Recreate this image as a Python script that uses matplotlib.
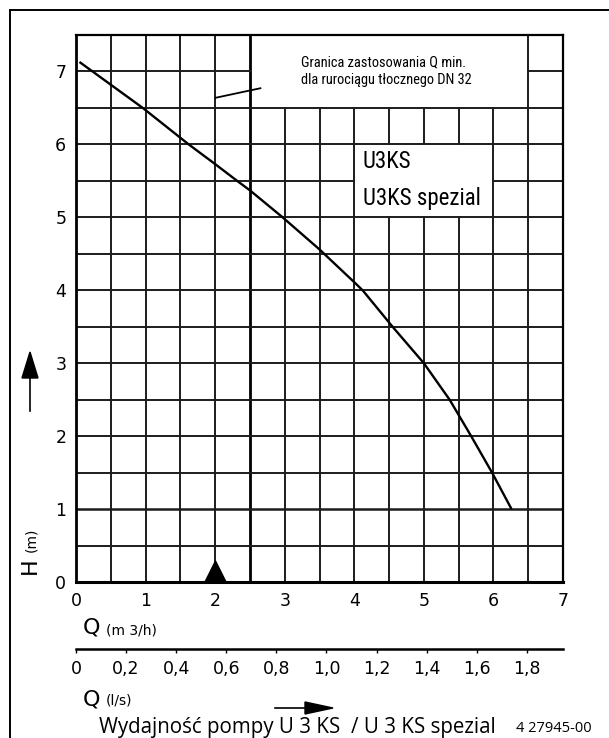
import numpy as np
import matplotlib
matplotlib.use("Agg")
import matplotlib.pyplot as plt
from matplotlib.lines import Line2D
from matplotlib.patches import Polygon
from matplotlib.path import Path
from matplotlib.transforms import IdentityTransform

# ---- data ----
q_m3h = [0.05, 0.96, 1.62, 2.0, 2.33, 2.5, 2.97, 3.5, 4.0, 4.12, 4.55, 5.0, 5.37, 5.68, 5.98, 6.26]
h_m = [7.13, 6.5, 6.0, 5.73, 5.49, 5.37, 5.0, 4.56, 4.11, 4.0, 3.5, 3.0, 2.5, 2.0, 1.5, 1.0]
x_ticks = [0, 1, 2, 3, 4, 5, 6, 7]
y_ticks = [0, 1, 2, 3, 4, 5, 6, 7]
ls_ticks = [0, 0.2, 0.4, 0.6, 0.8, 1.0, 1.2, 1.4, 1.6, 1.8]
ls_labels = ["0", "0,2", "0,4", "0,6", "0,8", "1,0", "1,2", "1,4", "1,6", "1,8"]
q_min = 2.0
note_lines = ["Granica zastosowania Q min.", "dla rurociągu tłocznego DN 32"]
model_lines = ["U3KS", "U3KS spezial"]
title = "Wydajność pompy U 3 KS  / U 3 KS spezial"
code = "4 27945-00"

W, H = 609, 738
fig = plt.figure(figsize=(W / 100, H / 100), dpi=100)
fig.patch.set_facecolor("white")

NARROW = ["Noto Sans Condensed", "Roboto Condensed", "Open Sans Condensed", "DejaVu Sans"]
ISO = ["DejaVu Sans"]

def px(x, y):
    return x / W, 1 - y / H

L, R, T, B = 76, 563, 35, 582
ax = fig.add_axes([L / W, 1 - B / H, (R - L) / W, (B - T) / H])
ax.set_xlim(0, 7)
ax.set_ylim(0, 7.5)
for s in ax.spines.values():
    s.set_color("black")
ax.spines["left"].set_linewidth(2.0)
ax.spines["bottom"].set_linewidth(2.2)
ax.spines["top"].set_linewidth(1.6)
ax.spines["right"].set_linewidth(1.6)

gc = "#1c1c1c"
glw = 1.4
for x in np.arange(0.5, 7.0, 0.5):
    if np.isclose(x, 2.5):
        ax.plot([x, x], [0, 7.5], color="black", lw=2.0, zorder=1)
    elif np.isclose(x, 6.5) or x < 2.5:
        ax.plot([x, x], [0, 7.5], color=gc, lw=glw, zorder=1)
    elif x in (4.5, 5.0, 5.5):
        ax.plot([x, x], [0, 5.0], color=gc, lw=glw, zorder=1)
        ax.plot([x, x], [6.0, 6.5], color=gc, lw=glw, zorder=1)
    else:
        ax.plot([x, x], [0, 6.5], color=gc, lw=glw, zorder=1)
for y in np.arange(0.5, 7.5, 0.5):
    if np.isclose(y, 7.0):
        ax.plot([0, 2.5], [y, y], color=gc, lw=glw, zorder=1)
        ax.plot([6.5, 7], [y, y], color=gc, lw=glw, zorder=1)
    elif np.isclose(y, 5.5):
        ax.plot([0, 4.0], [y, y], color=gc, lw=glw, zorder=1)
        ax.plot([6.0, 7], [y, y], color=gc, lw=glw, zorder=1)
    else:
        ax.plot([0, 7], [y, y], color=gc, lw=1.8 if np.isclose(y, 1.0) else glw, zorder=1)

ax.plot(q_m3h, h_m, color="black", lw=1.7, zorder=3, solid_capstyle="butt", solid_joinstyle="round")

tri = Path([(-1, 0), (1, 0), (0, 2), (-1, 0)], [Path.MOVETO, Path.LINETO, Path.LINETO, Path.CLOSEPOLY])
ax.plot([q_min], [0], marker=tri, ms=31, color="black", clip_on=False, zorder=4)

ax.plot([2.01, 2.65], [6.64, 6.77], color="black", lw=1.3, zorder=3)
for i, t in enumerate(note_lines):
    ax.text(3.23, 7.13 - i * 0.245, t, fontsize=10.4, family=NARROW, fontstretch="condensed",
            ha="left", va="center", zorder=5)
for i, t in enumerate(model_lines):
    ax.text(4.12, 5.76 - i * 0.5, t, fontsize=16.5, family=NARROW,
            fontstretch="condensed", ha="left", va="center", zorder=5)

ax.set_xticks(x_ticks)
ax.set_yticks(y_ticks)
ax.set_xticklabels([str(v) for v in x_ticks], family=ISO, fontsize=12.5)
ax.set_yticklabels([str(v) for v in y_ticks], family=ISO, fontsize=12.5)
ax.tick_params(axis="both", length=0)
ax.tick_params(axis="x", pad=7)
ax.tick_params(axis="y", pad=7)

ax2 = fig.add_axes([L / W, 1 - 649 / H, (R - L) / W, 0.0001])
ax2.set_xlim(0, 7 / 3.6)
for k in ("left", "right", "top"):
    ax2.spines[k].set_visible(False)
ax2.spines["bottom"].set_linewidth(1.8)
ax2.set_yticks([])
ax2.set_xticks(ls_ticks)
ax2.set_xticklabels(ls_labels, family=ISO, fontsize=12.5)
ax2.tick_params(axis="x", direction="out", length=3, width=1.0, pad=5)
ax2.patch.set_visible(False)

fig.text(*px(83, 628), "Q", fontsize=16, family=ISO, ha="left", va="center")
fig.text(*px(106, 631), "(m 3/h)", fontsize=10, family=ISO, ha="left", va="center")
fig.text(*px(83, 699), "Q", fontsize=16, family=ISO, ha="left", va="center")
fig.text(*px(106, 701), "(l/s)", fontsize=10, family=ISO, ha="left", va="center")
fig.text(*px(30, 566), "H", fontsize=16, family=ISO, ha="center", va="center", rotation=90)
fig.text(*px(31, 540), "(m)", fontsize=10, family=ISO, ha="center", va="center", rotation=90)

fig.text(*px(99, 727), title, fontsize=14.8, family=["Open Sans", "DejaVu Sans"], ha="left", va="center")
fig.text(*px(516, 728), code, fontsize=10.5, family=["Open Sans", "DejaVu Sans"], ha="left", va="center")

idt = IdentityTransform()
def dp(x, y):
    return (x, H - y)
fig.add_artist(Line2D([30, 30], [H - 411, H - 376], color="black", lw=1.2, transform=idt))
fig.add_artist(Polygon([dp(22, 378), dp(38, 378), dp(30, 352)], closed=True, color="black", transform=idt))
fig.add_artist(Line2D([275, 308], [H - 708, H - 708], color="black", lw=1.2, transform=idt))
fig.add_artist(Polygon([dp(305, 702), dp(305, 714), dp(333, 708)], closed=True, color="black", transform=idt))

fig.add_artist(Line2D([10 / W, 10 / W], [0, 1 - 10 / H], color="black", lw=1.4))
fig.add_artist(Line2D([10 / W, 1], [1 - 10 / H, 1 - 10 / H], color="black", lw=1.4))

fig.savefig("out.png", dpi=100, facecolor="white")
